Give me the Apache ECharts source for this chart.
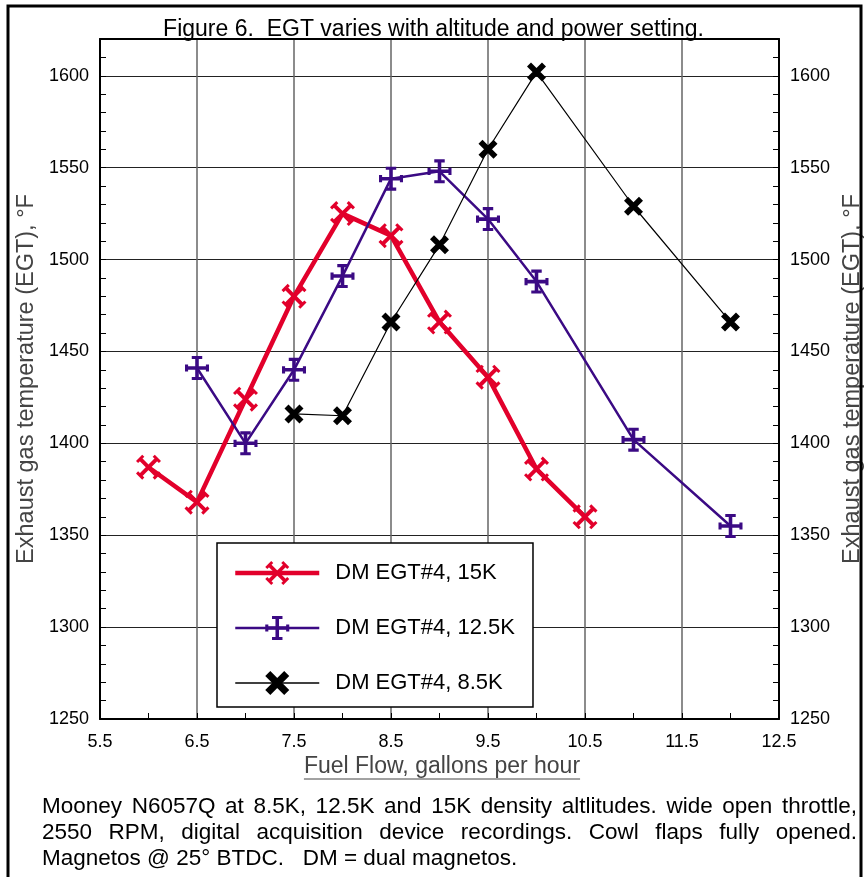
<!DOCTYPE html>
<html>
<head>
<meta charset="utf-8">
<script src="https://cdn.jsdelivr.net/npm/echarts@6/dist/echarts.min.js"></script>
<style>html,body{margin:0;padding:0;background:#fff;overflow:hidden}#chart{width:867px;height:877px}</style>
</head>
<body>
<div id="chart"></div>
<script>
// ---- data ----
const fuelFlow15 = [6.0, 6.5, 7.0, 7.5, 8.0, 8.5, 9.0, 9.5, 10.0, 10.5];
const egt15 = [1387, 1368, 1424, 1480, 1525, 1513, 1466, 1436, 1386, 1360];
const fuelFlow125 = [6.5, 7.0, 7.5, 8.0, 8.5, 9.0, 9.5, 10.0, 11.0, 12.0];
const egt125 = [1441, 1400, 1440, 1491, 1544, 1548, 1522, 1488, 1402, 1355];
const fuelFlow85 = [7.5, 8.0, 8.5, 9.0, 9.5, 10.0, 11.0, 12.0];
const egt85 = [1416, 1415, 1466, 1508, 1560, 1602, 1529, 1466];
const seriesNames = ['DM EGT#4, 15K', 'DM EGT#4, 12.5K', 'DM EGT#4, 8.5K'];
const xTickLabels = [5.5, 6.5, 7.5, 8.5, 9.5, 10.5, 11.5, 12.5];
const yTickLabels = [1250, 1300, 1350, 1400, 1450, 1500, 1550, 1600];
const titleText = 'Figure 6.  EGT varies with altitude and power setting.';
const xName = 'Fuel Flow, gallons per hour';
const yName = 'Exhaust gas temperature (EGT), \u00B0F';
const captionLines = [
  'Mooney N6057Q at 8.5K, 12.5K and 15K density altlitudes. wide open throttle,',
  '2550 RPM, digital acquisition device recordings.  Cowl flaps fully opened.',
  'Magnetos @ 25\u00B0 BTDC.   DM = dual magnetos.'
];

// ---- symbols ----
function rect(cx, cy, len, th, ang) {
  const c = Math.cos(ang), s = Math.sin(ang);
  const pts = [[-len/2,-th/2],[len/2,-th/2],[len/2,th/2],[-len/2,th/2]]
    .map(([x,y]) => [cx + x*c - y*s, cy + x*s + y*c]);
  return 'M' + pts.map(p => p[0].toFixed(2) + ' ' + p[1].toFixed(2)).join(' L') + ' Z';
}
function redSymbol() {
  let p = '';
  const a = Math.PI/4, r = 36;
  const armLen = 2 * r * Math.SQRT2;
  p += rect(50, 50, armLen, 17, a);
  p += rect(50, 50, armLen, 17, -a);
  [[1,1],[-1,-1],[1,-1],[-1,1]].forEach(([sx,sy]) => {
    const ex = 50 + sx*r, ey = 50 + sy*r;
    const ang = (sx*sy > 0) ? -a : a;
    p += rect(ex, ey, 38, 13, ang);
  });
  return 'path://' + p;
}
function purpleSymbol() {
  let p = '';
  p += rect(50, 50, 92, 15, Math.PI/2);
  p += rect(50, 50, 92, 15, 0);
  p += rect(50, 6, 44, 13, 0);
  p += rect(50, 94, 44, 13, 0);
  p += rect(6, 50, 30, 13, Math.PI/2);
  p += rect(94, 50, 30, 13, Math.PI/2);
  return 'path://' + p;
}
function blackSymbol() {
  let p = '';
  p += rect(50, 50, 120, 32, Math.PI/4);
  p += rect(50, 50, 120, 32, -Math.PI/4);
  return 'path://' + p;
}

const FONT = '"Liberation Sans", Arial, Helvetica, sans-serif';
const RED = '#e2002b', PURPLE = '#3b0a84', BLACK = '#000000';
const lineWidths = [4.5, 2.5, 1.2];
const legendLineWidths = [4.5, 2.5, 1.5];

function pairs(xs, ys) { return xs.map((x, i) => [x, ys[i]]); }

const chart = echarts.init(document.getElementById('chart'), null, {renderer: 'canvas', width: 867, height: 877});

// measure text for justified caption / underline
const cv = document.createElement('canvas').getContext('2d');
function measure(t, size) { cv.font = size + 'px ' + FONT; return cv.measureText(t).width; }

const graphics = [];
// outer frame
graphics.push({type: 'rect', shape: {x: 8, y: 6, width: 853, height: 900},
  style: {fill: 'none', stroke: '#000', lineWidth: 3}, silent: true, z: 100});
// caption
const capSize = 22.5, capLeft = 42, capRight = 857, capY = [807, 833, 859];
captionLines.forEach((line, li) => {
  const words = line.split(/\s+/);
  if (li < 2) {
    const widths = words.map(w => measure(w, capSize));
    const total = widths.reduce((a, b) => a + b, 0);
    const gap = (capRight - capLeft - total) / (words.length - 1);
    let x = capLeft;
    words.forEach((w, i) => {
      graphics.push({type: 'text', x: x, y: capY[li],
        style: {text: w, font: capSize + 'px ' + FONT, fill: '#000', verticalAlign: 'middle', align: 'left'}});
      x += widths[i] + gap;
    });
  } else {
    graphics.push({type: 'text', x: capLeft, y: capY[li],
      style: {text: line, font: capSize + 'px ' + FONT, fill: '#000', verticalAlign: 'middle', align: 'left'}});
  }
});
// x axis name with underline
const xNameSize = 23, xNameCx = 442, xNameY = 767;
const xNameW = measure(xName, xNameSize);
graphics.push({type: 'text', x: xNameCx, y: xNameY,
  style: {text: xName, font: xNameSize + 'px ' + FONT, fill: '#444', align: 'center', verticalAlign: 'middle'}});
graphics.push({type: 'line', shape: {x1: xNameCx - xNameW/2, y1: xNameY + 12, x2: xNameCx + xNameW/2, y2: xNameY + 12},
  style: {stroke: '#444', lineWidth: 1}});

const yAxisBase = {
  type: 'value', min: 1250, max: 1620, interval: 10,
  axisLine: {show: true, lineStyle: {color: '#000', width: 2}},
  axisTick: {show: true, inside: true, length: 6, lineStyle: {color: '#000', width: 1}},
  axisLabel: {show: true, margin: 11, color: '#000', fontSize: 18, fontFamily: FONT,
    formatter: v => (yTickLabels.indexOf(v) >= 0 ? String(v) : '')},
  splitLine: {show: false},
  name: yName, nameLocation: 'middle',
  nameTextStyle: {color: '#444', fontSize: 23.5, fontFamily: FONT}
};

const option = {
  animation: false,
  backgroundColor: '#fff',
  title: {text: titleText, left: 'center', top: 13,
    textStyle: {fontSize: 23, fontWeight: 'normal', color: '#000', fontFamily: FONT}},
  grid: {left: 100, width: 679, top: 39, height: 680, containLabel: false, outerBoundsMode: 'none'},
  xAxis: [
    {type: 'value', min: 5.5, max: 12.5, interval: 0.5, position: 'bottom',
      axisLine: {show: true, lineStyle: {color: '#000', width: 2}},
      axisTick: {show: true, inside: true, length: 6, lineStyle: {color: '#000', width: 1}},
      axisLabel: {margin: 14, color: '#000', fontSize: 18, fontFamily: FONT,
        formatter: v => (xTickLabels.some(t => Math.abs(t - v) < 1e-6) ? String(v.toFixed(1)) : '')},
      splitLine: {show: false}},
    {type: 'value', min: 5.5, max: 12.5, interval: 1, position: 'top',
      axisLine: {show: true, lineStyle: {color: '#000', width: 2}},
      axisTick: {show: false}, axisLabel: {show: false},
      splitLine: {show: true, lineStyle: {color: '#666', width: 1.5}}}
  ],
  yAxis: [
    Object.assign({}, yAxisBase, {position: 'left', nameGap: 59}),
    Object.assign({}, yAxisBase, {position: 'right', nameGap: 54, nameRotate: 90}),
    {type: 'value', min: 1250, max: 1620, interval: 50, position: 'left',
      axisLine: {show: false}, axisTick: {show: false}, axisLabel: {show: false},
      splitLine: {show: true, lineStyle: {color: '#222', width: 1.2}}}
  ],
  legend: {
    orient: 'vertical', left: 217, top: 543,
    padding: [18, 18, 12, 16], itemWidth: 84, itemHeight: 30, itemGap: 31,
    backgroundColor: '#fff', borderColor: '#000', borderWidth: 1.5,
    textStyle: {fontSize: 22, color: '#000', fontFamily: FONT, padding: [0, 0, 0, 11]},
    data: seriesNames.map((n, i) => ({name: n, lineStyle: {width: legendLineWidths[i]}}))
  },
  series: [
    {name: seriesNames[0], type: 'line', data: pairs(fuelFlow15, egt15),
      symbol: redSymbol(), symbolSize: 25, showAllSymbol: true,
      lineStyle: {color: RED, width: lineWidths[0]}, itemStyle: {color: RED}, z: 3},
    {name: seriesNames[1], type: 'line', data: pairs(fuelFlow125, egt125),
      symbol: purpleSymbol(), symbolSize: 24, showAllSymbol: true,
      lineStyle: {color: PURPLE, width: lineWidths[1]}, itemStyle: {color: PURPLE}, z: 4},
    {name: seriesNames[2], type: 'line', data: pairs(fuelFlow85, egt85),
      symbol: blackSymbol(), symbolSize: 19, showAllSymbol: true,
      lineStyle: {color: BLACK, width: lineWidths[2]}, itemStyle: {color: BLACK}, z: 5}
  ],
  graphic: graphics
};
chart.setOption(option);
</script>
</body>
</html>
